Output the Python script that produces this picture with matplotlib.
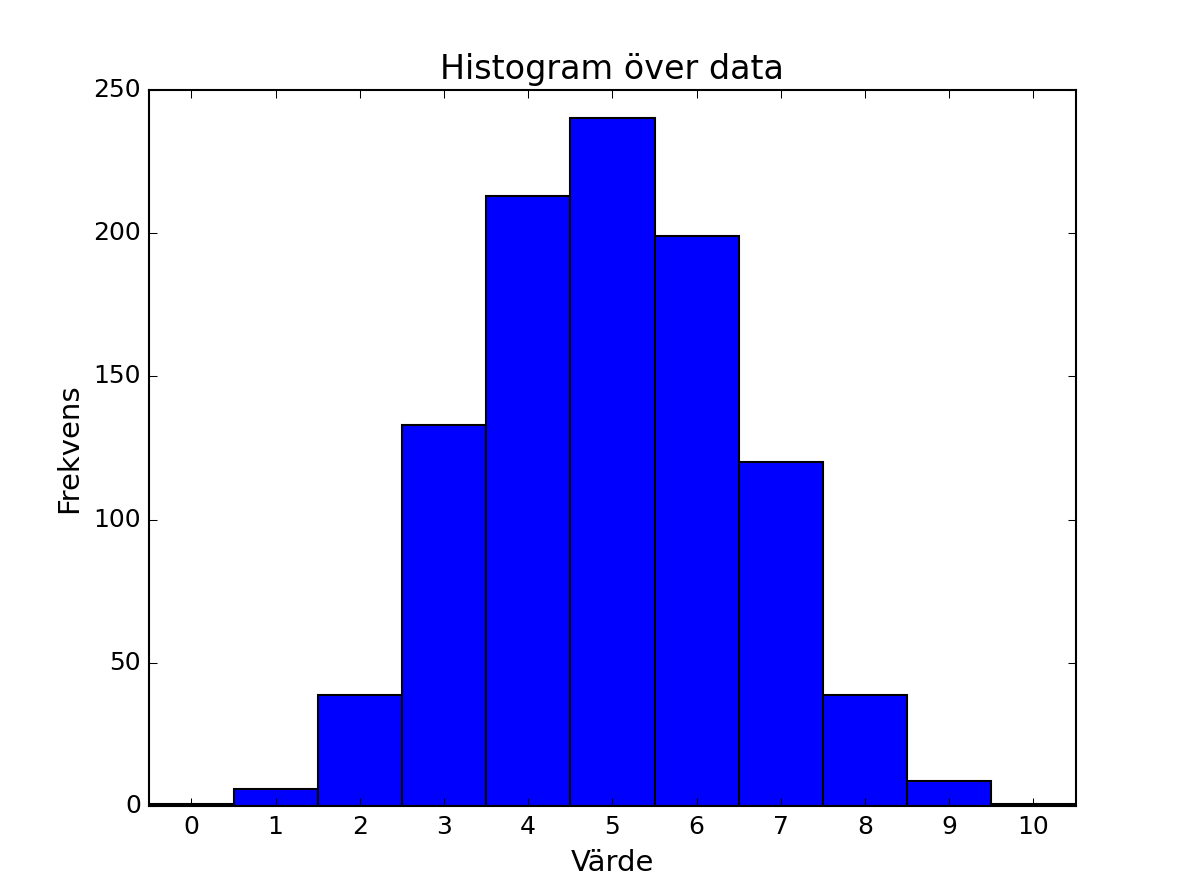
import numpy as np
import matplotlib
matplotlib.use('Agg')
from matplotlib import pyplot as plt

# bin centres and counts
values = [0, 1, 2, 3, 4, 5, 6, 7, 8, 9, 10]
counts = [1, 6, 39, 133, 213, 240, 199, 120, 39, 9, 1]

plt.style.use('classic')
plt.rcParams['font.family'] = 'DejaVu Sans'

fig = plt.figure(figsize=(1195 / 150, 896 / 150), dpi=150)
ax = fig.add_subplot(111)
ax.bar(values, counts, width=1.0, align='center', color='#0000ff', edgecolor='black', linewidth=1.0)

ax.set_xlim(-0.5, 10.5)
ax.set_ylim(0, 250)
ax.set_xticks(values)
ax.set_yticks([0, 50, 100, 150, 200, 250])
ax.tick_params(labelsize=12)

ax.set_title('Histogram över data', fontsize=16)
ax.set_xlabel('Värde', fontsize=14)
ax.set_ylabel('Frekvens', fontsize=14)

fig.savefig('out.png', dpi=150)
